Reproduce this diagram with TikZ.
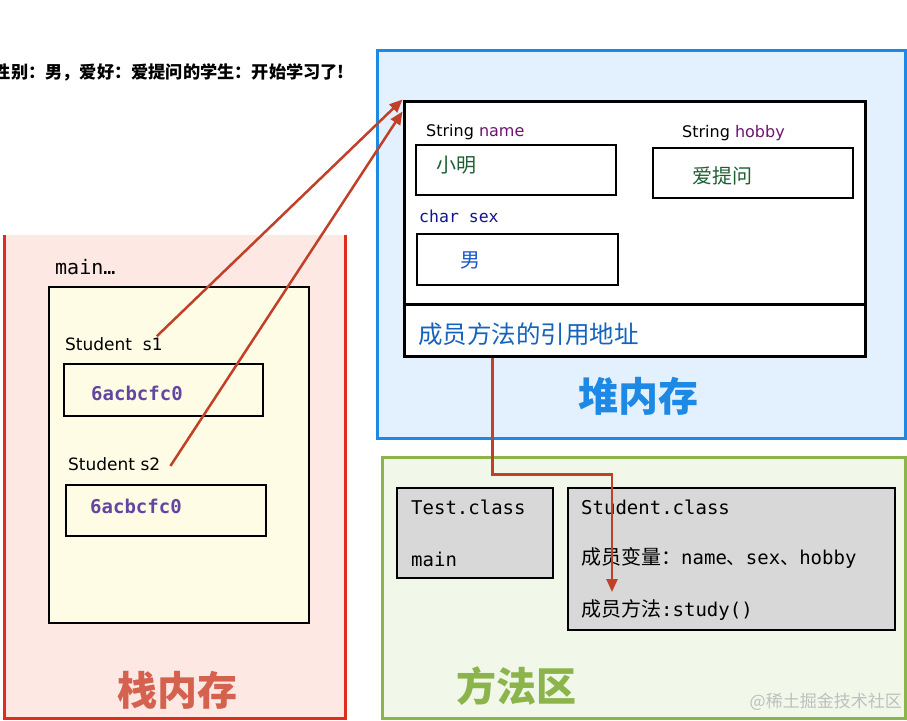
\documentclass[tikz,border=0pt]{standalone}
\usepackage{fontspec}
\setmainfont{DejaVu Sans}
\setmonofont{DejaVu Sans Mono}
\newfontfamily\cjk{Noto Sans CJK SC}
\definecolor{heapblue}{RGB}{30, 136, 229}
\definecolor{heapfill}{RGB}{227, 240, 253}
\definecolor{stackred}{RGB}{222, 45, 30}
\definecolor{stackfill}{RGB}{253, 232, 228}
\definecolor{stacktitle}{RGB}{212, 98, 78}
\definecolor{methgreen}{RGB}{139, 180, 74}
\definecolor{methfill}{RGB}{241, 247, 233}
\definecolor{framefill}{RGB}{255, 252, 230}
\definecolor{clsgray}{RGB}{216, 216, 216}
\definecolor{refred}{RGB}{192, 64, 40}
\definecolor{valpurple}{RGB}{100, 70, 160}
\definecolor{namepurple}{RGB}{110, 20, 110}
\definecolor{valgreen}{RGB}{30, 95, 50}
\definecolor{sexnavy}{RGB}{20, 20, 140}
\definecolor{valblue}{RGB}{25, 85, 200}
\definecolor{addrblue}{RGB}{20, 100, 190}
\usetikzlibrary{arrows.meta, positioning}

\begin{document}
\begin{tikzpicture}[x=1pt, y=-1pt,
  area/.style={line width=3pt, inner sep=0pt},
  field/.style={draw=black, line width=2.5pt, inner sep=0pt},
  clsbox/.style={draw=black, line width=2pt, fill=clsgray, inner sep=0pt},
  lbl/.style={anchor=west, inner sep=0pt, font=\fontsize{16}{16}\selectfont},
  code/.style={anchor=west, inner sep=0pt, font=\ttfamily\fontsize{19}{19}\selectfont},
  addr/.style={anchor=west, inner sep=0pt, text=valpurple, font=\ttfamily\bfseries\fontsize{19}{19}\selectfont},
  cjkval/.style={anchor=west, inner sep=0pt, font=\cjk\fontsize{20}{20}\selectfont},
  title/.style={inner sep=0pt, font=\cjk\bfseries\fontsize{40}{40}\selectfont},
  ref/.style={draw=refred, line width=2.5pt, -{Triangle[length=13pt, width=11pt]}}]
\useasboundingbox (0,0) rectangle (907,720);
\clip (0,0) rectangle (907,720);
\fill[white] (0,0) rectangle (907,720);

% top line of console output
\node[anchor=east, inner sep=0pt, font=\cjk\bfseries\fontsize{17.2}{17.2}\selectfont] (console) at (345,72) {性别：男，爱好：爱提问的学生：开始学习了!};

% heap
\node[area, draw=heapblue, fill=heapfill, minimum width=528pt, minimum height=388pt] (heap) at (641,244) {};
\node[field, line width=3pt, fill=white, minimum width=461pt, minimum height=203pt] (objtop) at (634.5,202.5) {};
\node[field, line width=3pt, fill=white, minimum width=461pt, minimum height=52pt] (objbot) at (634.5,330) {};
\node[lbl] (namelbl) at (426,132) {String \textcolor{namepurple}{name}};
\node[field, fill=white, minimum width=200pt, minimum height=50pt] (namebox) at (516,170) {};
\node[cjkval, text=valgreen] (nameval) at (436,165) {小明};
\node[lbl] (hobbylbl) at (682,133) {String \textcolor{namepurple}{hobby}};
\node[field, fill=white, minimum width=200pt, minimum height=50pt] (hobbybox) at (753,173) {};
\node[cjkval, text=valgreen] (hobbyval) at (692,176) {爱提问};
\node[anchor=west, inner sep=0pt, text=sexnavy, font=\ttfamily\fontsize{16.5}{16.5}\selectfont] (sexlbl) at (419,216) {char sex};
\node[field, fill=white, minimum width=201pt, minimum height=51pt] (sexbox) at (517.5,259.5) {};
\node[cjkval, text=valblue] (sexval) at (460,260) {男};
\node[anchor=west, inner sep=0pt, text=addrblue, font=\cjk\fontsize{24.5}{24.5}\selectfont] (methref) at (418,334) {成员方法的引用地址};
\node[title, text=heapblue] (heaptitle) at (638,396) {堆内存};

% stack
\node[fill=stackfill, inner sep=0pt, minimum width=340pt, minimum height=483pt] (stack) at (175,476.5) {};
\draw[stackred, line width=3pt] (stack.north west) -- (stack.south west) -- (stack.south east) -- (stack.north east);
\node[code, font=\ttfamily\fontsize{20}{20}\selectfont] (mainlbl) at (55,267) {main…};
\node[draw=black, line width=1.5pt, fill=framefill, minimum width=260pt, minimum height=336pt] (frame) at (179,455) {};
\node[lbl, font=\fontsize{17}{17}\selectfont] (s1lbl) at (65,344) {Student\ \ s1};
\node[field, minimum width=199pt, minimum height=52pt] (s1box) at (163.5,390) {};
\node[addr] (s1val) at (91,393) {6acbcfc0};
\node[lbl, font=\fontsize{17}{17}\selectfont] (s2lbl) at (68,464) {Student s2};
\node[field, minimum width=200pt, minimum height=51pt] (s2box) at (166,510.5) {};
\node[addr] (s2val) at (90,506) {6acbcfc0};
\node[title, text=stacktitle] (stacktitle) at (177,690) {栈内存};

% method area
\node[area, draw=methgreen, fill=methfill, minimum width=523pt, minimum height=261pt] (meth) at (643.5,587.5) {};
\node[clsbox, minimum width=156pt, minimum height=90pt] (testcls) at (475,533) {};
\node[code] (testname) at (411,507) {Test.class};
\node[code] (testmain) at (411,559) {main};
\node[clsbox, minimum width=327pt, minimum height=142pt] (stucls) at (731.5,559) {};
\node[code] (stuname) at (581,507) {Student.class};
\node[code] (stuvars) at (581,558) {{\cjk\fontsize{20}{20}\selectfont 成员变量：}name{\cjk 、}sex{\cjk 、}hobby};
\node[code] (stumeth) at (581,610) {{\cjk\fontsize{20}{20}\selectfont 成员方法}:study()};
\node[title, text=methgreen] (methtitle) at (516,686) {方法区};
\node[anchor=east, inner sep=0pt, text=black!25, font=\cjk\fontsize{17}{17}\selectfont] (mark) at (902,702) {@稀土掘金技术社区};

% references
\coordinate (reftop) at ([xshift=90pt]objbot.south west);
\coordinate (studytip) at (612,592);
\draw[ref] ([xshift=-6pt, yshift=1pt]s1lbl.north east) -- (objtop.north west);
\draw[ref] ([xshift=10pt, yshift=-2pt]s2lbl.east) -- ([yshift=-12pt]objtop.north west);
\draw[ref] (reftop) -- ++(0,117) -| (studytip);
\end{tikzpicture}
\end{document}
